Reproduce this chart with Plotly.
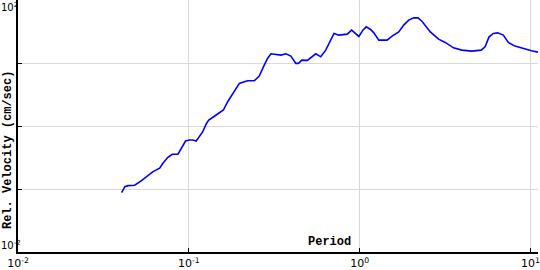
import plotly.graph_objects as go

# Period (sec) and relative velocity (cm/sec)
period = [0.0404, 0.0422, 0.0441, 0.0482, 0.0528, 0.0565, 0.0617, 0.0675, 0.0705, 0.0754,
          0.0800, 0.0863, 0.0903, 0.0957, 0.1009, 0.1055, 0.1104, 0.1155, 0.1207, 0.1263,
          0.1308, 0.1445, 0.1510, 0.1593, 0.1688, 0.1847, 0.1975, 0.2113, 0.2208, 0.2416,
          0.2584, 0.2763, 0.2888, 0.3023, 0.3304, 0.3458, 0.3698, 0.3955, 0.4229, 0.4380,
          0.4584, 0.4943, 0.5533, 0.5916, 0.6327, 0.6767, 0.7074, 0.7563, 0.8455, 0.8971,
          0.9465, 0.9892, 1.044, 1.091, 1.158, 1.210, 1.294, 1.446, 1.547, 1.693,
          1.810, 1.936, 2.070, 2.193, 2.314, 2.423, 2.591, 2.896, 3.168, 3.542,
          3.960, 4.529, 5.138, 5.421, 5.719, 6.060, 6.422, 6.930, 7.413, 8.110,
          9.066, 10.13, 11.09]
velocity = [0.0877, 0.109, 0.113, 0.115, 0.136, 0.157, 0.189, 0.214, 0.256, 0.319,
            0.356, 0.356, 0.443, 0.578, 0.600, 0.600, 0.578, 0.694, 0.812, 1.076,
            1.245, 1.494, 1.625, 1.793, 2.43, 3.50, 4.75, 5.04, 5.22, 5.22,
            6.20, 9.26, 11.83, 13.99, 13.34, 13.34, 13.99, 12.86, 9.86, 9.86,
            11.12, 11.0, 13.99, 12.54, 16.01, 23.06, 29.45, 27.68, 28.71, 33.21,
            29.45, 26.4, 33.2, 37.5, 34.1, 30.1, 23.06, 23.06, 26.7, 31.2,
            39.9, 47.9, 52.0, 52.0, 46.1, 39.9, 31.2, 23.9, 21.2, 17.42,
            16.01, 15.44, 16.01, 18.06, 26.0, 29.45, 30.1, 27.7, 21.2, 18.53,
            16.79, 15.61, 14.89]

x_tick_vals = [0.01, 0.1, 1, 10]
x_tick_text = ["10<sup>-2</sup>", "10<sup>-1</sup>", "10<sup>0</sup>", "10<sup>1</sup>"]
y_tick_vals = [0.01, 0.1, 1, 10, 100]
y_end_labels = ["10<sup>-2</sup>", "10<sup>2</sup>"]

x_title = "Period"
y_title = "Rel. Velocity (cm/sec)"

tick_font = dict(family="DejaVu Sans", size=11, color="black")
ylab_font = dict(family="DejaVu Sans", size=10, color="black")
title_font = dict(family="Liberation Mono", size=12, color="black")

fig = go.Figure()
fig.add_trace(go.Scatter(x=period, y=velocity, mode="lines",
                         line=dict(color="#0000ff", width=1.6), showlegend=False))

fig.update_layout(
    width=540, height=270,
    margin=dict(l=18, r=0, t=0, b=18),
    paper_bgcolor="white", plot_bgcolor="white",
    xaxis=dict(type="log", range=[-2, 1.0437], tickvals=x_tick_vals, ticktext=x_tick_text,
               showgrid=True, gridcolor="#d9d9d9", gridwidth=1,
               showline=True, linecolor="black", linewidth=2,
               ticks="inside", ticklen=4, tickcolor="black", tickwidth=1,
               tickfont=tick_font, zeroline=False, ticklabeloverflow="allow"),
    yaxis=dict(type="log", range=[-2, 2], tickvals=y_tick_vals, showticklabels=False,
               showgrid=True, gridcolor="#d9d9d9", gridwidth=1,
               showline=True, linecolor="black", linewidth=2,
               ticks="inside", ticklen=4, tickcolor="black", tickwidth=1,
               zeroline=False),
    annotations=[
        dict(text=y_end_labels[1], xref="paper", yref="y", x=-18 / 522, y=2, xanchor="left",
             yanchor="top", showarrow=False, font=ylab_font, borderpad=0),
        dict(text=y_end_labels[0], xref="paper", yref="y", x=-18 / 522, y=-2, xanchor="left",
             yanchor="bottom", showarrow=False, font=ylab_font, borderpad=0),
        dict(text="<b>" + x_title + "</b>", xref="paper", yref="paper",
             x=(330.3 - 18) / 522, y=(252 - 242) / 252, xanchor="center", yanchor="middle",
             showarrow=False, font=title_font),
        dict(text="<b>" + y_title + "</b>", xref="paper", yref="paper",
             x=(8 - 18) / 522, y=(252 - 150) / 252, xanchor="center", yanchor="middle",
             textangle=-90, showarrow=False, font=title_font),
    ],
)

fig.write_html("out.html")
